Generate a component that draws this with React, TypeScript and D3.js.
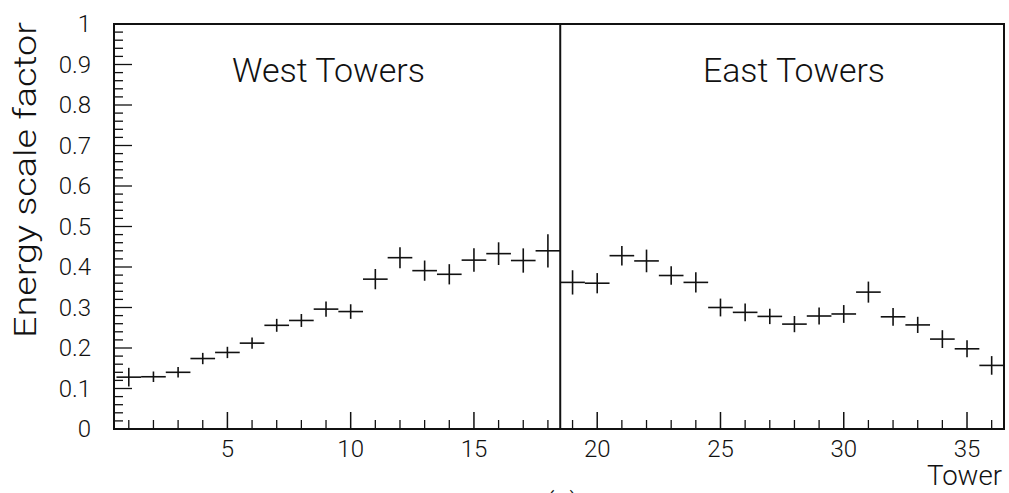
import React from "react";
import * as d3 from "d3";

// Per-tower energy scale factors with statistical errors
const towers = [1, 2, 3, 4, 5, 6, 7, 8, 9, 10, 11, 12, 13, 14, 15, 16, 17, 18,
  19, 20, 21, 22, 23, 24, 25, 26, 27, 28, 29, 30, 31, 32, 33, 34, 35, 36];
const scaleFactors = [0.128, 0.129, 0.140, 0.174, 0.189, 0.212, 0.256, 0.268, 0.296,
  0.290, 0.370, 0.423, 0.391, 0.382, 0.417, 0.433, 0.416, 0.440,
  0.362, 0.360, 0.428, 0.415, 0.379, 0.362, 0.300, 0.288, 0.278,
  0.259, 0.279, 0.284, 0.338, 0.277, 0.257, 0.222, 0.198, 0.157];
const errors = [0.023, 0.013, 0.013, 0.014, 0.014, 0.014, 0.016, 0.016, 0.019,
  0.018, 0.025, 0.026, 0.025, 0.025, 0.029, 0.028, 0.030, 0.041,
  0.030, 0.025, 0.024, 0.028, 0.023, 0.025, 0.022, 0.022, 0.019,
  0.020, 0.021, 0.022, 0.026, 0.022, 0.020, 0.022, 0.021, 0.023];

const xMajorTicks = [5, 10, 15, 20, 25, 30, 35];
const xMinorTicks = towers;
const yMajorTicks = [0, 0.1, 0.2, 0.3, 0.4, 0.5, 0.6, 0.7, 0.8, 0.9, 1];
const yTickLabels = ["0", "0.1", "0.2", "0.3", "0.4", "0.5", "0.6", "0.7", "0.8", "0.9", "1"];
const yMinorTicks = [0.02, 0.04, 0.06, 0.08, 0.12, 0.14, 0.16, 0.18, 0.22, 0.24, 0.26, 0.28,
  0.32, 0.34, 0.36, 0.38, 0.42, 0.44, 0.46, 0.48, 0.52, 0.54, 0.56, 0.58,
  0.62, 0.64, 0.66, 0.68, 0.72, 0.74, 0.76, 0.78, 0.82, 0.84, 0.86, 0.88,
  0.92, 0.94, 0.96, 0.98];
const westEastBoundary = 18.5;

const W = 1009;
const H = 493;
const left = 114, right = 1004, top = 24, bottom = 429;
const font = "Roboto, 'Liberation Sans', Arial, sans-serif";

export default function App() {
  const x = d3.scaleLinear().domain([0.4, 36.5]).range([left, right]);
  const y = d3.scaleLinear().domain([0, 1]).range([bottom, top]);
  const ink = "#111";

  return (
    <svg width={W} height={H} style={{ position: "absolute", left: 0, top: 0, background: "#fff" }}
      fontFamily={font} fontWeight={300}>
      <defs>
        <clipPath id="frame">
          <rect x={left} y={top} width={right - left} height={bottom - top} />
        </clipPath>
      </defs>

      {/* y axis ticks */}
      {yMinorTicks.map((t) => (
        <line key={"ym" + t} x1={left} x2={left + 9} y1={y(t)} y2={y(t)} stroke={ink} strokeWidth={1.3} />
      ))}
      {yMajorTicks.map((t) => (
        <line key={"yM" + t} x1={left} x2={left + 18} y1={y(t)} y2={y(t)} stroke={ink} strokeWidth={1.3} />
      ))}
      {yMajorTicks.map((t, i) => (
        <text key={"yl" + t} x={91} y={y(t)} dy="0.35em" textAnchor="end" fontSize={24} fill={ink}>
          {yTickLabels[i]}
        </text>
      ))}

      {/* x axis ticks */}
      {xMinorTicks.filter((t) => !xMajorTicks.includes(t)).map((t) => (
        <line key={"xm" + t} x1={x(t)} x2={x(t)} y1={bottom} y2={bottom - 9} stroke={ink} strokeWidth={1.3} />
      ))}
      {xMajorTicks.map((t) => (
        <line key={"xM" + t} x1={x(t)} x2={x(t)} y1={bottom} y2={bottom - 17} stroke={ink} strokeWidth={1.5} />
      ))}
      {xMajorTicks.map((t) => (
        <text key={"xl" + t} x={x(t)} y={457} textAnchor="middle" fontSize={24} fill={ink}>
          {t}
        </text>
      ))}

      {/* data points with error crosses */}
      <g clipPath="url(#frame)" stroke={ink} strokeWidth={1.6}>
        {towers.map((t, i) => (
          <g key={"p" + t}>
            <line x1={x(t - 0.5)} x2={x(t + 0.5)} y1={y(scaleFactors[i])} y2={y(scaleFactors[i])} />
            <line x1={x(t)} x2={x(t)}
              y1={y(scaleFactors[i] - errors[i])} y2={y(scaleFactors[i] + errors[i])} />
          </g>
        ))}
      </g>

      {/* west / east divider */}
      <line x1={x(westEastBoundary)} x2={x(westEastBoundary)} y1={top} y2={bottom} stroke={ink} strokeWidth={2} />

      {/* frame */}
      <rect x={left} y={top} width={right - left} height={bottom - top} fill="none" stroke={ink} strokeWidth={2} />

      {/* region labels */}
      <text x={232} y={82} fontSize={33} fill={ink} textLength={193} lengthAdjust="spacingAndGlyphs">West Towers</text>
      <text x={703} y={82} fontSize={33} fill={ink} textLength={182} lengthAdjust="spacingAndGlyphs">East Towers</text>

      {/* axis titles */}
      <text transform="translate(36,180) rotate(-90)" textAnchor="middle" fontSize={31} fill={ink}
        textLength={316} lengthAdjust="spacingAndGlyphs">Energy scale factor</text>
      <text x={1002} y={485} textAnchor="end" fontSize={28} fill={ink}
        textLength={75} lengthAdjust="spacingAndGlyphs">Tower</text>

      <text x={562} y={512} textAnchor="middle" fontSize={28} fill={ink}>(a)</text>
    </svg>
  );
}
